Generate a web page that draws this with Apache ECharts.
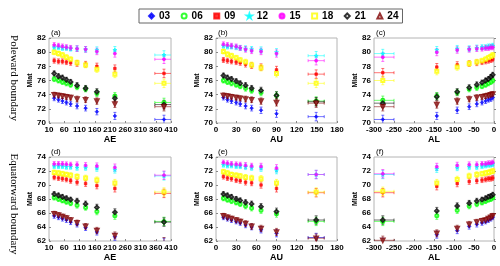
<!DOCTYPE html>
<html><head><meta charset="utf-8">
<script src="https://cdn.jsdelivr.net/npm/echarts@6/dist/echarts.min.js"></script>
<style>html,body{margin:0;padding:0;background:#fff}#c{width:500px;height:266px}</style>
</head><body><div id="c"></div>
<script>
// ---- data ----
const seriesNames = ['03','06','09','12','15','18','21','24'];
const aeBins = [27, 41, 54, 67, 81, 102, 130, 167, 226, 387];
const auBins = [11, 17, 23, 30, 36, 44, 53, 67, 90, 149];
const alBins = [-3, -8, -14, -21, -30, -43, -62, -92, -143, -278];
const aeXErr = [0, 0, 0, 0, 0, 0, 0, 0, 0, 30];
const auXErr = [0, 0, 0, 0, 0, 0, 0, 0, 0, 12];
const alXErr = [0, 0, 0, 0, 0, 0, 0, 0, 0, 28];
const mlatErr = [0.35, 0.35, 0.35, 0.35, 0.35, 0.4, 0.4, 0.45, 0.5, 0.6];
const poleTicks = [70, 82, 2];
const equaTicks = [62, 74, 2];

// Poleward boundary vs AE
const poleAE03 = [73.5, 73.3, 73.1, 72.9, 72.7, 72.4, 72.1, 71.6, 71.0, 70.5];
const poleAE06 = [76.2, 76.0, 75.8, 75.6, 75.4, 75.1, 74.8, 74.2, 73.8, 72.9];
const poleAE09 = [78.8, 78.7, 78.7, 78.6, 78.5, 78.4, 78.3, 78.0, 77.7, 77.0];
const poleAE12 = [80.7, 80.7, 80.6, 80.6, 80.5, 80.5, 80.4, 80.3, 80.3, 79.6];
const poleAE15 = [81.0, 80.9, 80.8, 80.7, 80.6, 80.5, 80.4, 80.1, 79.8, 79.0];
const poleAE18 = [80.0, 79.8, 79.6, 79.3, 79.0, 78.5, 78.2, 77.6, 76.9, 75.6];
const poleAE21 = [77.0, 76.6, 76.4, 76.1, 75.8, 75.3, 74.9, 74.4, 73.5, 72.6];
const poleAE24 = [74.0, 73.9, 73.8, 73.7, 73.6, 73.4, 73.3, 73.1, 72.7, 72.3];
// Poleward boundary vs AU
const poleAU03 = [73.6, 73.3, 73.1, 72.9, 72.7, 72.4, 72.1, 71.8, 71.3, 70.9];
const poleAU06 = [76.0, 75.8, 75.6, 75.4, 75.2, 74.9, 74.6, 74.3, 73.9, 73.1];
const poleAU09 = [78.9, 78.8, 78.7, 78.6, 78.5, 78.3, 78.1, 77.9, 77.5, 76.9];
const poleAU12 = [80.9, 80.8, 80.8, 80.7, 80.6, 80.5, 80.4, 80.3, 80.0, 79.5];
const poleAU15 = [81.1, 81.0, 80.9, 80.8, 80.6, 80.4, 80.2, 80.1, 79.8, 78.8];
const poleAU18 = [80.1, 79.7, 79.5, 79.2, 78.9, 78.6, 78.2, 77.8, 77.0, 75.6];
const poleAU21 = [76.7, 76.4, 76.2, 75.9, 75.6, 75.3, 74.9, 74.6, 73.9, 73.0];
const poleAU24 = [73.9, 73.8, 73.7, 73.6, 73.5, 73.4, 73.3, 73.1, 72.9, 72.8];
// Poleward boundary vs AL
const poleAL03 = [73.6, 73.4, 73.3, 73.1, 72.9, 72.7, 72.3, 71.8, 71.0, 70.5];
const poleAL06 = [76.0, 75.8, 75.6, 75.4, 75.2, 75.0, 74.8, 74.3, 73.8, 73.2];
const poleAL09 = [79.0, 78.9, 78.8, 78.7, 78.6, 78.5, 78.4, 78.2, 77.9, 77.1];
const poleAL12 = [80.9, 80.8, 80.8, 80.7, 80.7, 80.6, 80.5, 80.5, 80.3, 79.8];
const poleAL15 = [80.7, 80.7, 80.6, 80.6, 80.5, 80.5, 80.4, 80.3, 80.0, 79.3];
const poleAL18 = [79.6, 79.4, 79.2, 79.0, 78.8, 78.6, 78.4, 77.9, 77.3, 76.0];
const poleAL21 = [76.8, 76.5, 76.2, 76.0, 75.7, 75.4, 75.0, 74.4, 73.7, 72.8];
const poleAL24 = [74.1, 74.0, 73.9, 73.8, 73.7, 73.6, 73.4, 73.1, 72.6, 72.3];
// Equatorward boundary vs AE
const equaAE03 = [65.6, 65.4, 65.2, 65.0, 64.7, 64.4, 63.9, 63.3, 62.6, 61.8];
const equaAE06 = [68.2, 68.0, 67.8, 67.6, 67.4, 67.1, 66.8, 66.2, 65.6, 64.8];
const equaAE09 = [71.1, 71.0, 70.9, 70.8, 70.6, 70.4, 70.2, 69.9, 69.5, 68.8];
const equaAE12 = [72.7, 72.7, 72.7, 72.6, 72.6, 72.5, 72.5, 72.4, 72.2, 71.3];
const equaAE15 = [73.0, 73.0, 73.0, 72.95, 72.9, 72.9, 72.8, 72.7, 72.5, 71.4];
const equaAE18 = [71.8, 71.7, 71.6, 71.5, 71.4, 71.2, 71.0, 70.7, 70.3, 69.0];
const equaAE21 = [68.7, 68.5, 68.3, 68.1, 67.9, 67.7, 67.3, 66.8, 66.1, 64.7];
const equaAE24 = [65.9, 65.7, 65.5, 65.3, 65.0, 64.6, 64.1, 63.5, 62.8, 61.9];
// Equatorward boundary vs AU
const equaAU03 = [65.4, 65.2, 65.0, 64.8, 64.6, 64.3, 64.0, 63.6, 63.1, 62.5];
const equaAU06 = [68.1, 67.9, 67.7, 67.5, 67.3, 67.0, 66.7, 66.4, 65.9, 64.8];
const equaAU09 = [71.2, 71.0, 70.9, 70.7, 70.6, 70.4, 70.3, 70.0, 69.5, 68.9];
const equaAU12 = [72.9, 72.8, 72.8, 72.7, 72.7, 72.6, 72.5, 72.4, 72.1, 71.5];
const equaAU15 = [73.2, 73.1, 73.0, 72.95, 72.9, 72.8, 72.7, 72.65, 72.4, 71.5];
const equaAU18 = [71.9, 71.7, 71.5, 71.4, 71.3, 71.1, 71.0, 70.9, 70.3, 69.0];
const equaAU21 = [68.7, 68.5, 68.3, 68.0, 67.8, 67.5, 67.3, 66.9, 66.2, 65.0];
const equaAU24 = [65.6, 65.4, 65.2, 65.0, 64.8, 64.5, 64.1, 63.8, 63.3, 62.4];
// Equatorward boundary vs AL
const equaAL03 = [65.4, 65.2, 65.0, 64.8, 64.6, 64.4, 64.1, 63.5, 62.9, 61.8];
const equaAL06 = [68.2, 68.0, 67.9, 67.7, 67.5, 67.3, 67.0, 66.4, 65.6, 64.8];
const equaAL09 = [71.0, 70.9, 70.9, 70.8, 70.7, 70.6, 70.5, 70.2, 69.8, 68.9];
const equaAL12 = [73.0, 72.9, 72.9, 72.8, 72.7, 72.6, 72.6, 72.5, 72.3, 71.5];
const equaAL15 = [73.2, 73.1, 73.1, 73.0, 73.0, 72.9, 72.9, 72.8, 72.6, 71.6];
const equaAL18 = [72.0, 71.9, 71.8, 71.7, 71.6, 71.5, 71.3, 70.8, 70.3, 69.1];
const equaAL21 = [68.6, 68.4, 68.3, 68.1, 67.9, 67.7, 67.4, 67.0, 66.3, 65.0];
const equaAL24 = [65.6, 65.4, 65.2, 65.0, 64.9, 64.7, 64.4, 63.8, 63.1, 62.1];

// ---- styles / layout ----
const colors = ['#0000ff', '#00ff00', '#ff0000', '#00ffff', '#ff00ff', '#ffff00', '#000000', '#800000'];
const starPath = 'path://M50,0 L61,35 L98,35 L68,57 L79,91 L50,70 L21,91 L32,57 L2,35 L39,35 Z';
const symbols = ['diamond', 'emptyCircle', 'rect', starPath, 'circle', 'emptyRect', 'emptyDiamond', 'emptyTriangle'];
const symRot = [0, 0, 0, 0, 0, 0, 0, 180];
const symSize = [3.5, 3, 2.5, 4, 3, 3, 3.5, 3.5];

const panels = [
  {label:'(a)', name:'AE', bins:aeBins, xerr:aeXErr, x:[10, 410, 50], y:poleTicks, vals:[poleAE03,poleAE06,poleAE09,poleAE12,poleAE15,poleAE18,poleAE21,poleAE24], grid:{left:49, top:38, width:122, height:85}},
  {label:'(b)', name:'AU', bins:auBins, xerr:auXErr, x:[0, 180, 30], y:poleTicks, vals:[poleAU03,poleAU06,poleAU09,poleAU12,poleAU15,poleAU18,poleAU21,poleAU24], grid:{left:216, top:38, width:121, height:85}},
  {label:'(c)', name:'AL', bins:alBins, xerr:alXErr, x:[-300, 0, 50], y:poleTicks, vals:[poleAL03,poleAL06,poleAL09,poleAL12,poleAL15,poleAL18,poleAL21,poleAL24], grid:{left:374, top:38, width:120, height:85}},
  {label:'(d)', name:'AE', bins:aeBins, xerr:aeXErr, x:[10, 410, 50], y:equaTicks, vals:[equaAE03,equaAE06,equaAE09,equaAE12,equaAE15,equaAE18,equaAE21,equaAE24], grid:{left:49, top:157, width:122, height:84}},
  {label:'(e)', name:'AU', bins:auBins, xerr:auXErr, x:[0, 180, 30], y:equaTicks, vals:[equaAU03,equaAU06,equaAU09,equaAU12,equaAU15,equaAU18,equaAU21,equaAU24], grid:{left:216, top:157, width:121, height:84}},
  {label:'(f)', name:'AL', bins:alBins, xerr:alXErr, x:[-300, 0, 50], y:equaTicks, vals:[equaAL03,equaAL06,equaAL09,equaAL12,equaAL15,equaAL18,equaAL21,equaAL24], grid:{left:374, top:157, width:120, height:84}}
];

function hexA(hex, a) {
  const r = parseInt(hex.slice(1,3),16), g = parseInt(hex.slice(3,5),16), b = parseInt(hex.slice(5,7),16);
  return 'rgba(' + r + ',' + g + ',' + b + ',' + a + ')';
}

function makeRender(color) {
  return function (params, api) {
    const x = api.value(0), y = api.value(1), xe = api.value(2), ye = api.value(3);
    const c = api.coord([x, y]);
    const t = api.coord([x, y + ye]);
    const b = api.coord([x, y - ye]);
    const st = {stroke: color, lineWidth: 1};
    const cap = 1.5;
    const ch = [
      {type:'line', shape:{x1:c[0], y1:t[1], x2:c[0], y2:b[1]}, style:st},
      {type:'line', shape:{x1:c[0]-cap, y1:t[1], x2:c[0]+cap, y2:t[1]}, style:st},
      {type:'line', shape:{x1:c[0]-cap, y1:b[1], x2:c[0]+cap, y2:b[1]}, style:st}
    ];
    if (xe > 0) {
      const l = api.coord([x - xe, y]);
      const r = api.coord([x + xe, y]);
      ch.push({type:'line', shape:{x1:l[0], y1:c[1], x2:r[0], y2:c[1]}, style:st});
      ch.push({type:'line', shape:{x1:l[0], y1:c[1]-cap, x2:l[0], y2:c[1]+cap}, style:st});
      ch.push({type:'line', shape:{x1:r[0], y1:c[1]-cap, x2:r[0], y2:c[1]+cap}, style:st});
    }
    return {type:'group', children:ch};
  };
}

const tickFont = {fontFamily:'Liberation Sans', fontWeight:'bold', fontSize:8, color:'#000'};
const grid = [], xAxis = [], yAxis = [], series = [], graphic = [];

panels.forEach(function (p, pi) {
  grid.push(Object.assign({show:true, borderColor:'#b4b4b4', borderWidth:1, containLabel:false}, p.grid));
  xAxis.push({gridIndex:pi, type:'value', min:p.x[0], max:p.x[1], interval:p.x[2],
    name:p.name, nameLocation:'middle', nameGap:11,
    nameTextStyle:{fontFamily:'Liberation Sans', fontWeight:'bold', fontSize:9, color:'#000'},
    axisLine:{show:false}, axisTick:{show:true, inside:true, length:2, lineStyle:{color:'#888'}},
    axisLabel:Object.assign({margin:3, showMinLabel:true, showMaxLabel:true}, tickFont), splitLine:{show:false}});
  yAxis.push({gridIndex:pi, type:'value', min:p.y[0], max:p.y[1], interval:p.y[2],
    name:'Mlat', nameLocation:'middle', nameGap:12, nameRotate:90,
    nameTextStyle:{fontFamily:'Liberation Sans', fontWeight:'bold', fontSize:7, color:'#000'},
    axisLine:{show:false}, axisTick:{show:true, inside:true, length:2, lineStyle:{color:'#888'}},
    axisLabel:Object.assign({margin:3}, tickFont), splitLine:{show:false}});
  graphic.push({type:'text', left:p.grid.left + 2, top:p.grid.top - 9,
    style:{text:p.label, font:'8px "Liberation Sans"', fill:'#000'}});
  p.vals.forEach(function (vals, si) {
    const errData = vals.map(function (v, i) { return [p.bins[i], v, p.xerr[i], mlatErr[i]]; });
    const ptData = vals.map(function (v, i) { return [p.bins[i], v]; });
    series.push({type:'custom', name:'err' + seriesNames[si], xAxisIndex:pi, yAxisIndex:pi, clip:true,
      renderItem:makeRender(hexA(colors[si], 0.55)), data:errData, silent:true, z:2});
    series.push({type:'scatter', name:seriesNames[si], xAxisIndex:pi, yAxisIndex:pi, clip:true,
      symbol:symbols[si], symbolRotate:symRot[si], symbolSize:symSize[si],
      itemStyle:{color:colors[si], borderColor:colors[si], borderWidth:0.8}, data:ptData, silent:true, z:3});
  });
});

graphic.push({type:'text', x:14, y:78, rotation:-Math.PI/2,
  style:{text:'Poleward boundary', font:'11px "Liberation Serif"', fill:'#000', align:'center', verticalAlign:'middle'}});
graphic.push({type:'text', x:14, y:204, rotation:-Math.PI/2,
  style:{text:'Equatorward boundary', font:'11px "Liberation Serif"', fill:'#000', align:'center', verticalAlign:'middle'}});

const chart = echarts.init(document.getElementById('c'), null, {renderer:'canvas'});
chart.setOption({
  animation:false,
  backgroundColor:'#fff',
  legend:{data:seriesNames, left:139, top:9, orient:'horizontal', padding:[2,4,2,9],
    itemWidth:5, itemHeight:5, itemGap:10.5, borderColor:'#666', borderWidth:1,
    textStyle:{fontFamily:'Liberation Sans', fontWeight:'bold', fontSize:10, color:'#000', lineHeight:8},
    selectedMode:false},
  grid:grid, xAxis:xAxis, yAxis:yAxis, series:series, graphic:graphic
});
</script></body></html>
